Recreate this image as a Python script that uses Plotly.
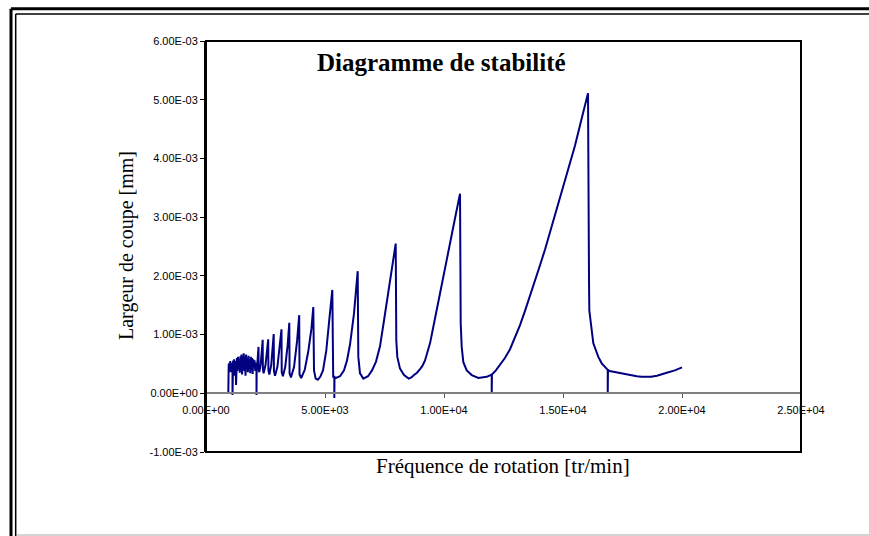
import numpy as np
import plotly.graph_objects as go

# ---------------- data ----------------
# spindle speed [tr/min]
frequence_rpm = [
    937, 940, 955, 970, 985, 1000, 1020, 1040, 1060, 1080, 1100, 1113, 1113, 1118,
    1140, 1160, 1185, 1205, 1230, 1250, 1262, 1275, 1300, 1320, 1345, 1370, 1395,
    1420, 1445, 1470, 1490, 1515, 1540, 1560, 1585, 1610, 1635, 1660, 1685, 1710,
    1735, 1760, 1785, 1810, 1835, 1860, 1885, 1910, 1935, 1960, 1985, 2010, 2040,
    2070, 2100, 2122, 2122, 2130, 2165,
    2206, 2212, 2240, 2300, 2350,
    2382, 2390, 2420, 2500, 2570,
    2614, 2622, 2660, 2740, 2800,
    2845, 2854, 2900, 3000, 3100,
    3172, 3182, 3230, 3330, 3430,
    3500, 3512, 3570, 3700, 3830,
    3916, 3930, 4000, 4150, 4300, 4430,
    4509, 4538, 4609, 4700, 4800, 4916, 5055, 5180,
    5307, 5345, 5391, 5391, 5400, 5463, 5631, 5799, 5925, 6051, 6219,
    6374, 6400, 6471, 6610, 6807, 6975, 7143, 7311, 7479, 7647, 7815,
    7971, 7996, 8038, 8152, 8320, 8520, 8630, 8740, 8866, 8992, 9097, 9202, 9307,
    9412, 9517, 9622, 9727, 9833, 10043, 10253, 10463,
    10673, 10702, 10744, 10812, 10955, 11165, 11442, 11795, 12005, 12005, 12015,
    12180, 12354, 12560, 12774, 12980, 13194, 13400, 13614, 13820, 14034, 14245,
    14455, 14665, 14875, 15190, 15505, 15780,
    16051, 16093, 16106, 16274, 16484, 16627, 16837, 16880, 16880, 16890, 16960,
    17186, 17400, 17678, 17900, 18100, 18300, 18518, 18700, 18950, 19150, 19358,
    19700, 20000,
]
# cutting width, in units of 1e-3 mm
largeur_e3 = [
    0.00, 0.45, 0.50, 0.38, 0.52, 0.40, 0.55, 0.36, 0.50, 0.42, 0.52, 0.45, -0.03, 0.48,
    0.56, 0.40, 0.58, 0.30, 0.55, 0.45, 0.14, 0.52, 0.60, 0.38, 0.62, 0.42, 0.58,
    0.35, 0.63, 0.40, 0.66, 0.32, 0.60, 0.42, 0.68, 0.38, 0.62, 0.30, 0.66, 0.44,
    0.60, 0.36, 0.64, 0.42, 0.58, 0.34, 0.62, 0.40, 0.60, 0.33, 0.58, 0.45, 0.56,
    0.38, 0.52, 0.45, -0.03, 0.40, 0.55,
    0.79, 0.40, 0.36, 0.50, 0.70,
    0.91, 0.42, 0.34, 0.48, 0.72,
    0.92, 0.40, 0.32, 0.48, 0.74,
    1.01, 0.38, 0.30, 0.45, 0.77,
    1.09, 0.36, 0.29, 0.45, 0.82,
    1.20, 0.34, 0.27, 0.45, 0.90,
    1.33, 0.32, 0.26, 0.40, 0.72, 1.10,
    1.47, 0.39, 0.25, 0.23, 0.28, 0.39, 0.73, 1.25,
    1.76, 0.28, 0.28, -0.08, 0.27, 0.26, 0.29, 0.39, 0.56, 0.83, 1.36,
    2.08, 0.62, 0.34, 0.25, 0.29, 0.39, 0.54, 0.80, 1.24, 1.69, 2.13,
    2.55, 0.90, 0.62, 0.42, 0.31, 0.25, 0.27, 0.31, 0.35, 0.41, 0.47, 0.56, 0.69,
    0.85, 1.06, 1.28, 1.49, 1.70, 2.13, 2.55, 2.98,
    3.40, 1.19, 0.79, 0.53, 0.39, 0.31, 0.26, 0.28, 0.32, 0.00, 0.32,
    0.39, 0.48, 0.60, 0.75, 0.94, 1.16, 1.40, 1.65, 1.91, 2.18, 2.45,
    2.74, 3.03, 3.32, 3.77, 4.22, 4.67,
    5.11, 1.92, 1.41, 0.85, 0.62, 0.51, 0.41, 0.40, 0.00, 0.40, 0.38,
    0.36, 0.34, 0.32, 0.30, 0.29, 0.28, 0.28, 0.28, 0.30, 0.32, 0.35,
    0.39, 0.44,
]

x_tickvals = [0, 5000, 10000, 15000, 20000, 25000]
x_ticktext = ["0.00E+00", "5.00E+03", "1.00E+04", "1.50E+04", "2.00E+04", "2.50E+04"]
y_tickvals = [-1e-3, 0, 1e-3, 2e-3, 3e-3, 4e-3, 5e-3, 6e-3]
y_ticktext = ["-1.00E-03", "0.00E+00", "1.00E-03", "2.00E-03", "3.00E-03",
              "4.00E-03", "5.00E-03", "6.00E-03"]

titre = "Diagramme de stabilité"
titre_x = "Fréquence de rotation [tr/min]"
titre_y = "Largeur de coupe [mm]"

# ---------------- figure ----------------
largeur_mm = np.array(largeur_e3) * 1e-3

W, H = 869, 536
L, R, T, B = 206, 68, 41, 84
pw, ph = W - L - R, H - T - B


def px_x(p):
    return (p - L) / pw


def px_y(p):
    return (H - B - p) / ph


fig = go.Figure()
fig.add_trace(go.Scatter(
    x=frequence_rpm, y=largeur_mm, mode="lines",
    line=dict(color="#000080", width=2), showlegend=False, hoverinfo="skip",
))

sans = "Liberation Sans, Arial, sans-serif"
serif = "Liberation Serif, Times New Roman, serif"

fig.update_layout(
    width=W, height=H,
    margin=dict(l=L, r=R, t=T, b=B, pad=0),
    paper_bgcolor="white", plot_bgcolor="white",
    xaxis=dict(
        range=[0, 25000], anchor="free", position=1 / 7,
        tickvals=x_tickvals, ticktext=x_ticktext,
        ticks="outside", ticklen=4, tickcolor="#555555", tickwidth=1,
        ticklabelstandoff=3,
        showline=True, linecolor="#7f7f7f", linewidth=1.5,
        showgrid=False, zeroline=False,
        tickfont=dict(family=sans, size=11, color="black"),
    ),
    yaxis=dict(
        range=[-1e-3, 6e-3],
        tickvals=y_tickvals, ticktext=y_ticktext,
        ticks="outside", ticklen=4, tickcolor="black", tickwidth=1,
        showline=True, linecolor="black", linewidth=2,
        showgrid=False, zeroline=False,
        tickfont=dict(family=sans, size=11, color="black"),
    ),
)

# plot frame
fig.add_shape(type="rect", xref="paper", yref="paper", x0=0, x1=1, y0=0, y1=1,
              line=dict(color="black", width=2))

# outer double border
fig.add_shape(type="line", xref="paper", yref="paper",
              x0=px_x(11), x1=px_x(880), y0=px_y(8.7), y1=px_y(8.7),
              line=dict(color="black", width=3))
fig.add_shape(type="line", xref="paper", yref="paper",
              x0=px_x(11), x1=px_x(11), y0=px_y(8.7), y1=px_y(540),
              line=dict(color="black", width=3))
fig.add_shape(type="line", xref="paper", yref="paper",
              x0=px_x(15.7), x1=px_x(880), y0=px_y(14), y1=px_y(14),
              line=dict(color="black", width=1.5))
fig.add_shape(type="line", xref="paper", yref="paper",
              x0=px_x(15.7), x1=px_x(15.7), y0=px_y(14), y1=px_y(540),
              line=dict(color="black", width=1.5))
fig.add_shape(type="line", xref="paper", yref="paper",
              x0=px_x(17), x1=px_x(880), y0=px_y(535), y1=px_y(535),
              line=dict(color="#aaaaaa", width=1))

fig.add_annotation(text="<b>" + titre + "</b>", xref="paper", yref="paper",
                   x=px_x(441), y=px_y(62), showarrow=False,
                   xanchor="center", yanchor="middle",
                   font=dict(family=serif, size=25, color="black"))
fig.add_annotation(text=titre_x, xref="paper", yref="paper",
                   x=px_x(503), y=px_y(466), showarrow=False,
                   xanchor="center", yanchor="middle",
                   font=dict(family=serif, size=21, color="black"))
fig.add_annotation(text=titre_y, xref="paper", yref="paper",
                   x=px_x(127), y=px_y(246), showarrow=False, textangle=-90,
                   xanchor="center", yanchor="middle",
                   font=dict(family=serif, size=20, color="black"))

fig.write_html("out.html")
